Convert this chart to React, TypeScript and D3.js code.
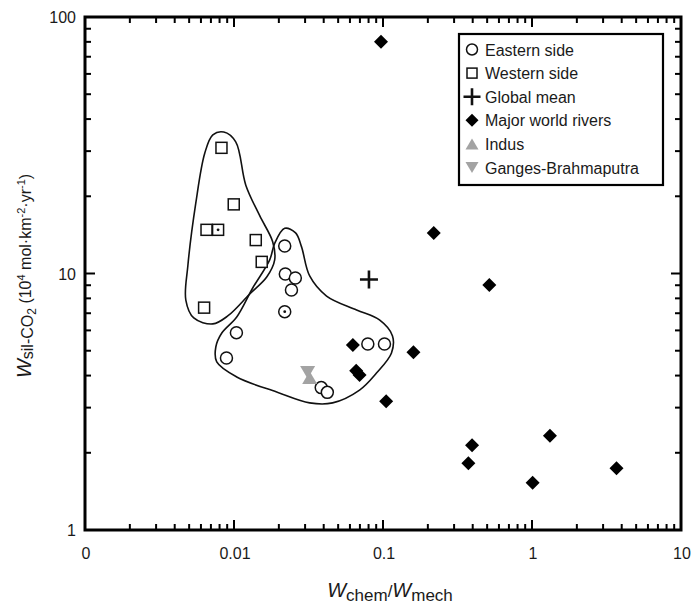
import React from "react";
import * as d3 from "d3";

const WIDTH = 694;
const HEIGHT = 606;

// Axes
const xDomain: [number, number] = [0.001, 10];
const yDomain: [number, number] = [1, 100];
const xTickValues = [0.001, 0.01, 0.1, 1, 10];
const xTickLabels = ["0", "0.01", "0.1", "1", "10"];
const yTickValues = [1, 10, 100];
const yTickLabels = ["1", "10", "100"];

// Data: [Wchem/Wmech, Wsil-CO2]
const easternSide: [number, number][] = [
  [0.0219, 12.8], [0.0221, 9.95], [0.0258, 9.6], [0.0243, 8.63],
  [0.01038, 5.88], [0.0089, 4.68], [0.0385, 3.59], [0.0423, 3.44],
  [0.0791, 5.31], [0.1023, 5.31],
];
const easternDotted: [number, number][] = [[0.0219, 7.1]];
const westernSide: [number, number][] = [
  [0.00824, 30.9], [0.00996, 18.6], [0.00654, 14.8], [0.0140, 13.5],
  [0.01535, 11.1], [0.0063, 7.36],
];
const westernDotted: [number, number][] = [[0.00782, 14.8]];
const globalMean: [number, number][] = [[0.0805, 9.48]];
const majorRivers: [number, number][] = [
  [0.097, 80], [0.219, 14.4], [0.0628, 5.26], [0.0661, 4.18], [0.0696, 4.02],
  [0.16, 4.93], [0.105, 3.18], [0.517, 9.02], [0.396, 2.14], [0.374, 1.82],
  [1.32, 2.33], [1.01, 1.53], [3.69, 1.74],
];
const indus: [number, number][] = [[0.0322, 3.93]];
const ganges: [number, number][] = [[0.0312, 4.12]];

// Hand-drawn enclosures (data units)
const westernOutline: [number, number][] = [
  [0.00854, 35.6], [0.01027, 32.6], [0.012, 22.1], [0.01488, 16.8], [0.01818, 13.3],
  [0.01875, 11.3], [0.01658, 9.69], [0.01275, 8.32], [0.00908, 6.83], [0.00721, 6.36],
  [0.00537, 6.71], [0.00475, 7.88], [0.0049, 10.7], [0.00554, 18.8], [0.00637, 29.5],
  [0.00721, 34.7],
];
const easternOutline: [number, number][] = [
  [0.0219, 15.0], [0.0259, 14.4], [0.0284, 12.7], [0.0322, 9.78], [0.0418, 8.17],
  [0.0665, 7.21], [0.0947, 6.59], [0.1158, 5.71], [0.114, 4.9], [0.0904, 4.09],
  [0.0696, 3.51], [0.0459, 3.13], [0.0322, 3.13], [0.01934, 3.45], [0.01043, 3.95],
  [0.00766, 4.52], [0.00755, 5.17], [0.00828, 5.86], [0.01043, 6.77], [0.01335, 8.78],
  [0.01736, 11.3], [0.01875, 13.1],
];

const legendLabels = [
  "Eastern side",
  "Western side",
  "Global mean",
  "Major world rivers",
  "Indus",
  "Ganges-Brahmaputra",
];

const FONT = "'Liberation Sans', Arial, Helvetica, sans-serif";
const GREY = "#a3a3a3";

const plot = { left: 85, right: 681, top: 17, bottom: 530 };

function minorTicks(domain: [number, number]) {
  const out: number[] = [];
  const lo = Math.round(Math.log10(domain[0]));
  const hi = Math.round(Math.log10(domain[1]));
  for (let e = lo; e < hi; e++) {
    for (let m = 2; m <= 9; m++) out.push(m * Math.pow(10, e));
  }
  return out;
}

const Circle = ({ x, y, r = 6, dot = false }: any) => (
  <g>
    <circle cx={x} cy={y} r={r} fill="white" stroke="#111" strokeWidth={1.5} />
    {dot && <circle cx={x} cy={y} r={1.4} fill="#111" />}
  </g>
);
const Square = ({ x, y, s = 11, dot = false }: any) => (
  <g>
    <rect x={x - s / 2} y={y - s / 2} width={s} height={s} fill="white" stroke="#111" strokeWidth={1.5} />
    {dot && <circle cx={x} cy={y} r={1.4} fill="#111" />}
  </g>
);
const Diamond = ({ x, y, h = 7 }: any) => (
  <path d={`M${x},${y - h}L${x + h},${y}L${x},${y + h}L${x - h},${y}Z`} fill="#000" />
);
const Plus = ({ x, y, h = 9, w = 2.6 }: any) => (
  <path d={`M${x - h},${y}H${x + h}M${x},${y - h}V${y + h}`} stroke="#111" strokeWidth={w} />
);
const Tri = ({ x, y, w = 14, down = false }: any) => {
  const hh = w * 0.85;
  return down ? (
    <path d={`M${x - w / 2},${y - hh / 2}L${x + w / 2},${y - hh / 2}L${x},${y + hh / 2}Z`} fill={GREY} />
  ) : (
    <path d={`M${x - w / 2},${y + hh / 2}L${x + w / 2},${y + hh / 2}L${x},${y - hh / 2}Z`} fill={GREY} />
  );
};

export default function App() {
  const x = d3.scaleLog().domain(xDomain).range([plot.left, plot.right]);
  const y = d3.scaleLog().domain(yDomain).range([plot.bottom, plot.top]);

  const outline = d3
    .line<[number, number]>()
    .x((d) => x(d[0]))
    .y((d) => y(d[1]))
    .curve(d3.curveCatmullRomClosed.alpha(0.5));

  const majorLen = 10;
  const minorLen = 6;
  const xMinor = minorTicks(xDomain);
  const yMinor = minorTicks(yDomain);

  const legendX = 459;
  const legendY = 34;
  const legendW = 204;
  const legendH = 151;
  const rowY = (i: number) => 49.5 + i * 23.6;
  const mx = 472;

  return (
    <svg
      width={WIDTH}
      height={HEIGHT}
      style={{ position: "absolute", left: 0, top: 0, background: "white" }}
      fontFamily={FONT}
    >
      <rect width={WIDTH} height={HEIGHT} fill="white" />

      {/* enclosures */}
      <path d={outline(westernOutline) || ""} fill="none" stroke="#111" strokeWidth={1.6} />
      <path d={outline(easternOutline) || ""} fill="none" stroke="#111" strokeWidth={1.6} />

      {/* ticks */}
      <g stroke="#000" strokeWidth={2}>
        {xTickValues.map((v, i) => (
          <g key={"xM" + i}>
            <line x1={x(v)} x2={x(v)} y1={plot.bottom} y2={plot.bottom - majorLen} />
            <line x1={x(v)} x2={x(v)} y1={plot.top} y2={plot.top + majorLen} />
          </g>
        ))}
        {xMinor.map((v, i) => (
          <g key={"xm" + i}>
            <line x1={x(v)} x2={x(v)} y1={plot.bottom} y2={plot.bottom - minorLen} />
            <line x1={x(v)} x2={x(v)} y1={plot.top} y2={plot.top + minorLen} />
          </g>
        ))}
        {yTickValues.map((v, i) => (
          <g key={"yM" + i}>
            <line y1={y(v)} y2={y(v)} x1={plot.left} x2={plot.left + majorLen} />
            <line y1={y(v)} y2={y(v)} x1={plot.right} x2={plot.right - majorLen} />
          </g>
        ))}
        {yMinor.map((v, i) => (
          <g key={"ym" + i}>
            <line y1={y(v)} y2={y(v)} x1={plot.left} x2={plot.left + minorLen} />
            <line y1={y(v)} y2={y(v)} x1={plot.right} x2={plot.right - minorLen} />
          </g>
        ))}
      </g>

      {/* frame */}
      <rect
        x={plot.left}
        y={plot.top}
        width={plot.right - plot.left}
        height={plot.bottom - plot.top}
        fill="none"
        stroke="#000"
        strokeWidth={3}
      />

      {/* tick labels */}
      <g fontSize={16} fill="#1a1a1a">
        {xTickValues.map((v, i) => (
          <text key={"xl" + i} x={x(v) + 1} y={559} textAnchor="middle">
            {xTickLabels[i]}
          </text>
        ))}
        {yTickValues.map((v, i) => (
          <text key={"yl" + i} x={76} y={y(v) + 6} textAnchor="end">
            {yTickLabels[i]}
          </text>
        ))}
      </g>

      {/* axis titles */}
      <text x={390} y={597} textAnchor="middle" fill="#1a1a1a" fontSize={17}>
        <tspan fontStyle="italic" fontSize={20}>W</tspan>
        <tspan dy={4}>chem</tspan>
        <tspan dy={-4}>/</tspan>
        <tspan fontStyle="italic" fontSize={20}>W</tspan>
        <tspan dy={4}>mech</tspan>
      </text>
      <text transform="translate(31,276) rotate(-90)" textAnchor="middle" fill="#1a1a1a" fontSize={16}>
        <tspan fontStyle="italic" fontSize={20}>W</tspan>
        <tspan dy={2}>sil-CO</tspan>
        <tspan dy={3} fontSize={12}>2</tspan>
        <tspan dy={-5}> (10</tspan>
        <tspan dy={-6} fontSize={11}>4</tspan>
        <tspan dy={6}> mol·km</tspan>
        <tspan dy={-6} fontSize={11}>-2</tspan>
        <tspan dy={6}>·yr</tspan>
        <tspan dy={-6} fontSize={11}>-1</tspan>
        <tspan dy={6}>)</tspan>
      </text>

      {/* data */}
      {westernSide.map((d, i) => (
        <Square key={"w" + i} x={x(d[0])} y={y(d[1])} />
      ))}
      {westernDotted.map((d, i) => (
        <Square key={"wd" + i} x={x(d[0])} y={y(d[1])} dot />
      ))}
      {easternSide.map((d, i) => (
        <Circle key={"e" + i} x={x(d[0])} y={y(d[1])} />
      ))}
      {easternDotted.map((d, i) => (
        <Circle key={"ed" + i} x={x(d[0])} y={y(d[1])} dot />
      ))}
      {globalMean.map((d, i) => (
        <Plus key={"g" + i} x={x(d[0])} y={y(d[1])} />
      ))}
      {majorRivers.map((d, i) => (
        <Diamond key={"r" + i} x={x(d[0])} y={y(d[1])} />
      ))}
      {indus.map((d, i) => (
        <Tri key={"in" + i} x={x(d[0])} y={y(d[1])} w={15} />
      ))}
      {ganges.map((d, i) => (
        <Tri key={"ga" + i} x={x(d[0])} y={y(d[1])} w={15} down />
      ))}

      {/* legend */}
      <rect x={legendX} y={legendY} width={legendW} height={legendH} fill="white" stroke="#000" strokeWidth={2.2} />
      <Circle x={mx} y={rowY(0)} r={5.5} />
      <Square x={mx} y={rowY(1)} s={10} />
      <Plus x={mx} y={rowY(2)} h={8.5} w={2.6} />
      <Diamond x={mx} y={rowY(3)} h={6.5} />
      <Tri x={mx} y={rowY(4)} w={13} />
      <Tri x={mx} y={rowY(5)} w={13} down />
      <g fontSize={16} fill="#1a1a1a">
        {legendLabels.map((t, i) => (
          <text key={"lg" + i} x={485} y={rowY(i) + 6}>
            {t}
          </text>
        ))}
      </g>
    </svg>
  );
}
